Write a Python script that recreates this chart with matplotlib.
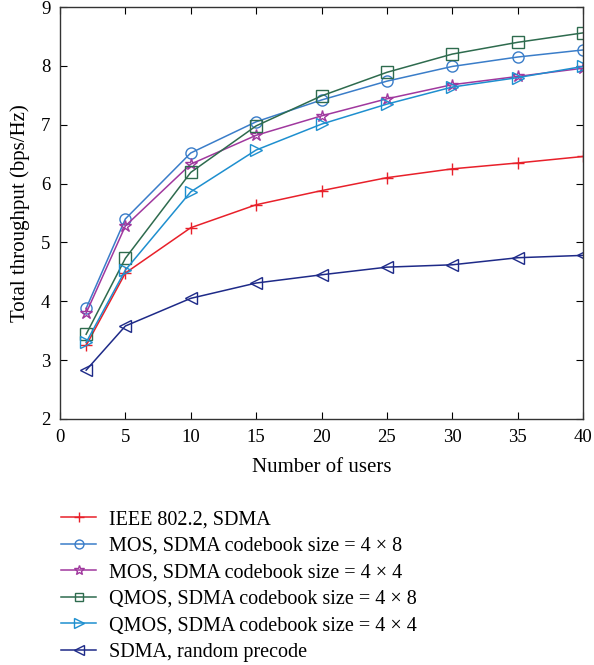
import matplotlib
matplotlib.use("Agg")
import matplotlib.pyplot as plt

users = [2, 5, 10, 15, 20, 25, 30, 35, 40]
ieee = [3.25, 4.48, 5.25, 5.64, 5.88, 6.10, 6.25, 6.35, 6.46]
mos_4x8 = [3.88, 5.40, 6.52, 7.05, 7.42, 7.74, 7.99, 8.15, 8.27]
mos_4x4 = [3.80, 5.28, 6.33, 6.82, 7.15, 7.44, 7.68, 7.82, 7.96]
qmos_4x8 = [3.44, 4.73, 6.19, 6.98, 7.49, 7.89, 8.20, 8.40, 8.56]
qmos_4x4 = [3.30, 4.53, 5.86, 6.57, 7.01, 7.35, 7.64, 7.80, 7.99]
sdma_random = [2.83, 3.58, 4.05, 4.31, 4.45, 4.58, 4.62, 4.74, 4.78]

labels = ["IEEE 802.2, SDMA",
          "MOS, SDMA codebook size = 4 \u00d7 8",
          "MOS, SDMA codebook size = 4 \u00d7 4",
          "QMOS, SDMA codebook size = 4 \u00d7 8",
          "QMOS, SDMA codebook size = 4 \u00d7 4",
          "SDMA, random precode"]
xticks = [0, 5, 10, 15, 20, 25, 30, 35, 40]
yticks = [2, 3, 4, 5, 6, 7, 8, 9]

plt.rcParams['font.family'] = ['Liberation Serif', 'DejaVu Serif']

fig = plt.figure(figsize=(5.94, 6.65), dpi=100)
ax = fig.add_axes([60/594, 1-419/665, (583-60)/594, (419-7)/665])

styles = [
    (ieee, '#e8202a', '+', 9),
    (mos_4x8, '#3a7dc9', 'o', 8),
    (mos_4x4, '#a0389e', '*', 9),
    (qmos_4x8, '#2e6b4e', 's', 8),
    (qmos_4x4, '#1e8fcf', '>', 9),
    (sdma_random, '#1e2a88', '<', 9),
]
handles = []
for (vals, col, mk, ms), lab in zip(styles, labels):
    h, = ax.plot(users, vals, color=col, marker=mk, markersize=ms,
                 markerfacecolor='none', markeredgecolor=col,
                 markeredgewidth=1.0, linewidth=1.1, label=lab)
    handles.append(h)

ax.set_xlim(0, 40)
ax.set_ylim(2, 9)
ax.set_xticks(xticks)
ax.set_yticks(yticks)
ax.tick_params(direction='in', top=True, right=True, labelsize=13.5,
               length=5, width=0.8, pad=7)
for s in ax.spines.values():
    s.set_linewidth(1.0)
    s.set_color('#333333')
ax.set_xlabel("Number of users", fontsize=15, labelpad=9)
ax.set_ylabel("Total throughput (bps/Hz)", fontsize=15, labelpad=8)

fig.legend(handles=handles, labels=labels, loc='upper left',
           bbox_to_anchor=(43/594, 1-492/665), frameon=False,
           fontsize=14.5, handlelength=1.75, labelspacing=0.37,
           handletextpad=0.65, markerscale=0.8)

fig.savefig("out.png", dpi=100)
